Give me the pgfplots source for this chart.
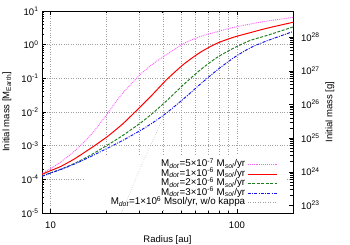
\documentclass[border=0pt]{standalone}
\usepackage{fontspec}
\setmainfont{Liberation Sans}
\usepackage{pgfplots}
\pgfplotsset{compat=1.18}
\definecolor{cpink}{RGB}{255,90,255}
\definecolor{cred}{RGB}{255,0,0}
\definecolor{cgreen}{RGB}{30,125,30}
\definecolor{cblue}{RGB}{20,20,245}
\definecolor{cgray}{RGB}{160,160,160}
\newcommand{\fs}{\fontsize{9.5}{11}\selectfont}
\newcommand{\fl}{\fontsize{9.8}{11}\selectfont}
\begin{document}
\begin{tikzpicture}
\begin{axis}[
  scale only axis, width=251pt, height=202pt,
  xmode=log, ymode=log,
  xmin=9, xmax=200, ymin=1e-5, ymax=10,
  xtick={10,100}, xticklabels={10,100},
  minor xtick={20,30,40,50,60,70,80,90},
  ytick={1e-5,1e-4,1e-3,1e-2,1e-1,1,10},
  yticklabels={10\textsuperscript{-5},10\textsuperscript{-4},10\textsuperscript{-3},10\textsuperscript{-2},10\textsuperscript{-1},10\textsuperscript{0},10\textsuperscript{1}},
  minor ytick={2e-5,3e-5,4e-5,5e-5,6e-5,7e-5,8e-5,9e-5,
    2e-4,3e-4,4e-4,5e-4,6e-4,7e-4,8e-4,9e-4,
    2e-3,3e-3,4e-3,5e-3,6e-3,7e-3,8e-3,9e-3,
    2e-2,3e-2,4e-2,5e-2,6e-2,7e-2,8e-2,9e-2,
    2e-1,3e-1,4e-1,5e-1,6e-1,7e-1,8e-1,9e-1,
    2,3,4,5,6,7,8,9},
  ytick pos=left, xtick pos=both,
  tick align=inside,
  major tick length=4.5pt, minor tick length=2.5pt,
  tick style={black, line width=0.5pt},
  axis line style={black, line width=0.6pt},
  xmajorgrids=true, xminorgrids=true, ymajorgrids=true,
  grid style={cgray, dotted, line width=0.45pt},
  minor grid style={cgray, dotted, line width=0.45pt},
  tick label style={font=\fs},
  xticklabel style={yshift=-5pt},
  every axis x label/.style={at={(rel axis cs:0.5,0)}, anchor=base, yshift=-29pt, font=\fs},
  every axis y label/.style={at={(rel axis cs:0,0.5)}, anchor=center, xshift=-35pt, rotate=90, font=\fs},
  xlabel={Radius [au]},
  ylabel={Initial mass [M\textsubscript{Earth}]},
  legend plot pos=right,
  legend cell align=right,
  legend image code/.code={\draw[#1] (0pt,0pt) -- (29pt,0pt);},
  legend style={draw=none, fill=none, inner sep=0pt, outer sep=0pt,
    row sep=0pt, column sep=2pt, font=\fl,
    nodes={inner sep=0.25pt, text height=6.8pt, text depth=2.2pt},
    at={(rel axis cs:0.938,0.028)}, anchor=south east},
]
\fill[white] (rel axis cs:0.171,0.02) rectangle (rel axis cs:0.976,0.287);
% w/o kappa (drawn first, underneath)
\addplot[cgray, dotted, line width=0.5pt, smooth, tension=0.4, forget plot] coordinates {
(24.06,1.0e-5) (30.4,2.239e-4) (40.5,7.31e-3) (42.24,9.727e-3)
(51.8,2.466e-2) (63.66,6.730e-2) (78.2,1.750e-1) (95.9,4.055e-1)
(117.8,8.035e-1) (144.7,1.297) (200,2.449)};
% Mdot = 5e-7
\addplot[cpink, densely dotted, line width=0.9pt, smooth, tension=0.4] coordinates {
(9,1.507e-4) (10,2.104e-4) (11.35,3.281e-4) (13.37,6.683e-4) (15.13,1.279e-3)
(17.11,2.710e-3) (20.18,8.913e-3) (22.35,1.968e-2) (24.75,3.999e-2) (30.4,1.324e-1)
(34.4,2.366e-1) (38.08,3.565e-1) (42.24,5.188e-1) (51.8,1.086) (63.66,1.750)
(78.2,2.432) (95.9,3.258) (117.8,4.083) (144.7,5.012) (200,6.457)};
\addlegendentry{M\textsubscript{\textit{dot}}=5×10\textsuperscript{-7} M\textsubscript{\textit{sol}}/yr}
% Mdot = 1e-6
\addplot[cred, line width=1.0pt, smooth, tension=0.4] coordinates {
(9,1.406e-4) (10,1.811e-4) (11.35,2.415e-4) (13.37,3.972e-4) (15.13,6.194e-4)
(17.11,9.727e-4) (20.18,1.862e-3) (22.35,2.944e-3) (24.75,4.764e-3) (30.4,1.445e-2)
(34.4,2.864e-2) (38.08,5.188e-2) (42.24,9.462e-2) (51.8,2.618e-1) (63.66,5.943e-1)
(78.2,1.102) (95.9,1.660) (117.8,2.270) (144.7,3.069) (200,4.624)};
\addlegendentry{M\textsubscript{\textit{dot}}=1×10\textsuperscript{-6} M\textsubscript{\textit{sol}}/yr}
% Mdot = 2e-6
\addplot[cgreen, dash pattern=on 3pt off 1.5pt, line width=0.95pt, smooth, tension=0.4] coordinates {
(9,1.253e-4) (10,1.560e-4) (11.35,1.995e-4) (13.37,2.924e-4) (15.13,4.111e-4)
(17.11,5.984e-4) (20.18,1.035e-3) (22.35,1.466e-3) (24.75,2.118e-3) (30.4,4.721e-3)
(34.4,8.147e-3) (38.08,1.324e-2) (42.24,2.223e-2) (51.8,6.546e-2) (63.66,1.786e-1)
(78.2,4.169e-1) (95.9,7.870e-1) (117.8,1.334) (144.7,1.875) (200,3.350)};
\addlegendentry{M\textsubscript{\textit{dot}}=2×10\textsuperscript{-6} M\textsubscript{\textit{sol}}/yr}
% Mdot = 3e-6
\addplot[cblue, dash pattern=on 3pt off 1.3pt on 0.9pt off 1.3pt, line width=0.95pt, smooth, tension=0.4] coordinates {
(9,1.227e-4) (10,1.528e-4) (11.35,1.954e-4) (13.37,2.805e-4) (15.13,3.819e-4)
(17.11,5.297e-4) (20.18,8.375e-4) (22.35,1.114e-3) (24.75,1.496e-3) (30.4,2.844e-3)
(34.4,4.345e-3) (38.08,6.368e-3) (42.24,9.727e-3) (51.8,2.466e-2) (63.66,6.730e-2)
(78.2,1.750e-1) (95.9,4.055e-1) (117.8,8.035e-1) (144.7,1.297) (200,2.449)};
\addlegendentry{M\textsubscript{\textit{dot}}=3×10\textsuperscript{-6} M\textsubscript{\textit{sol}}/yr}
\addlegendimage{cgray, dotted, line width=0.5pt}
\addlegendentry{M\textsubscript{\textit{dot}}=1×10\textsuperscript{6} Msol/yr, w/o kappa}
\end{axis}
\begin{axis}[
  scale only axis, width=251pt, height=202pt,
  xmode=log, ymode=log,
  xmin=9, xmax=200, ymin=5.97e22, ymax=5.97e28,
  axis x line=none, axis y line*=right,
  y axis line style={-, black, line width=0.6pt},
  ytick={1e23,1e24,1e25,1e26,1e27,1e28},
  yticklabels={10\textsuperscript{23},10\textsuperscript{24},10\textsuperscript{25},10\textsuperscript{26},10\textsuperscript{27},10\textsuperscript{28}},
  minor ytick={},
  ytick align=inside,
  major tick length=4.5pt,
  tick style={black, line width=0.5pt},
  tick label style={font=\fs},
  yticklabel style={xshift=4.5pt},
  every axis y label/.style={at={(rel axis cs:1,0.5)}, anchor=center, xshift=37pt, rotate=90, font=\fs},
  ylabel={Initial mass [g]},
]
\end{axis}
\pgfresetboundingbox
\path (-42pt,-32pt) rectangle (308pt,213pt);
\end{tikzpicture}
\end{document}
